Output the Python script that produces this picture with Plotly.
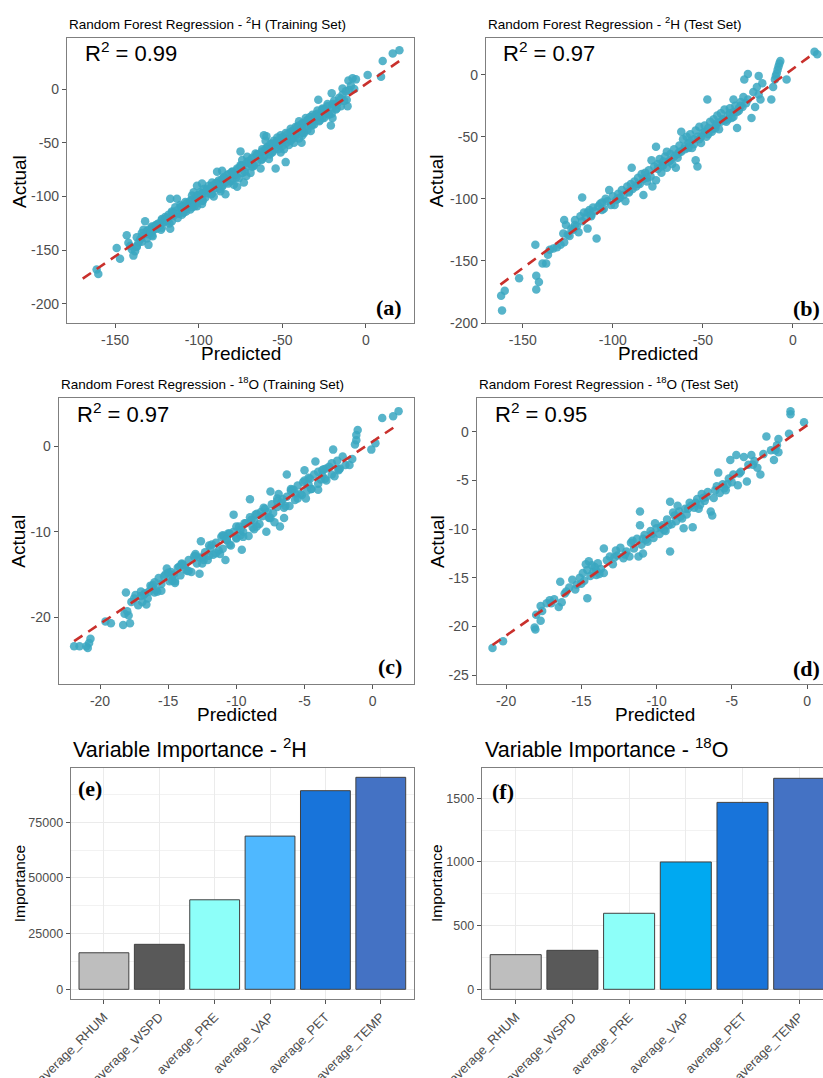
import plotly.graph_objects as go

# ---------------- data ----------------
# (a) 2H training set: predicted, actual
a_pred = [-161,-160,-149,-147,-143,-142,-141,-140,-139,-138,-137,-136,-135,-134,-133,-132,-131,-130,-130,-129,
          -128,-127,-126,-125,-124,-123,-122,-121,-120,-119,-118,-117,-117,-116,-115,-114,-113,-112,-111,-110,
          -109,-108,-107,-106,-105,-104,-103,-103,-102,-101,-101,-100,-99,-98,-98,-97,-96,-95,-94,-93,
          -92,-91,-90,-89,-89,-88,-87,-86,-86,-85,-84,-84,-83,-82,-81,-80,-79,-78,-77,-77,
          -76,-75,-75,-74,-73,-72,-71.5,-71,-70,-69,-68,-67,-66,-65,-64,-63,-62,-61,-61,-60,
          -60,-59.5,-59,-58,-57,-56,-55,-54,-54,-53,-52,-51,-51,-50,-49,-48,-48,-47,-46,-45,
          -45,-44,-43,-42,-42,-41,-40,-40,-39,-38.5,-38,-38,-37,-36,-36,-35,-34,-33.5,-33,-33,
          -32,-31,-30,-29,-28.5,-28,-27,-26,-25,-24,-23,-22,-21,-20.5,-20.5,-20,-20,-19,-18,-17,
          -16,-15,-14,-14,-13,-12,-11.5,-11,-10.5,-10,-9,-8,-7,-6,1,9,10,16,20,
          -137,-137,-134,-134,-131,-128,-128,-125,-122,-122,-119,-116,-116,-113,-110,-110,-107,-104,-104,-101,
          -98,-98,-95,-92,-92,-89,-86,-86,-83,-80,-80,-77,-74,-74,-71,-68,-68,-65,-62,-62,
          -59,-56,-56,-53,-50,-50,-47,-44,-44,-41,-38,-38,-35,-32,-32,-29,-26,-26,-23]
a_act = [-168,-172,-148,-158,-136,-143,-146,-149,-155,-151,-147,-143,-140,-137,-131,-123,-139,-145,-135,-133,
         -128,-131,-127,-130,-125,-127,-121,-124,-119,-123,-117,-130,-102,-114,-118,-110,-102,-116,-108,-112,
         -115,-105,-110,-107,-112,-99,-96,-106,-103,-109,-90,-100,-96,-107,-88,-93,-101,-97,-90,-95,
         -87,-100,-92,-88,-77,-85,-95,-90,-76,-82,-98,-87,-84,-79,-86,-77,-89,-80,-75,-91,
         -83,-58,-71,-66,-87,-73,-81,-63,-69,-78,-65,-71,-60,-68,-62,-74,-56,-43,-63,-48,
         -58,-44,-54,-65,-51,-58,-48,-74,-55,-45,-52,-43,-59,-49,-56,-68,-41,-46,-52,-37,
         -48,-44,-50,-35,-42,-39,-30,-46,-37,-50,-32,-43,-41,-27,-35,-38,-31,-26,-29,-39,
         -24,-33,-26,-20,-10,-30,-23,-18,-27,-21,-14,-24,-34,-4,-23,-27,-17,-11,-19,-13,
         -8,-16,0.5,-5,-11,-2,-10,-16,8,-1,3,10,0,9,13,11.5,26,33,36,
         -138,-146,-134,-142,-132,-129,-136,-126,-122,-129,-120,-115,-123,-113,-109,-117,-106,-103,-110,-99,
         -97,-104,-94,-90,-97,-87,-84,-91,-80,-77,-85,-74,-71,-78,-68,-64,-72,-61,-58,-65,
         -55,-51,-59,-48,-45,-53,-42,-39,-46,-35,-32,-40,-29,-26,-33,-23,-19,-27,-16]
a_pred_core = [-130,-127.5,-125,-122.5,-120,-117.5,-115,-112.5,-110,-107.5,-105,-102.5,-100,-97.5,-95,-92.5,
               -90,-87.5,-85,-82.5,-80,-77.5,-75,-72.5,-70,-67.5,-65,-62.5,-60,-57.5,-55,-52.5,
               -50,-47.5,-45,-42.5,-40,-37.5,-35,-32.5,-30,-27.5,-25,-22.5,-20,-17.5,-15,
               -128.5,-118.5,-108.5,-98.5,-88.5,-78.5,-68.5,-58.5,-48.5,-38.5,-28.5,-18.5]
a_act_core = [-131,-137,-127,-131,-121,-125,-116,-120,-110,-114,-104,-109,-99,-104,-93,-98,
              -88,-93,-83,-88,-78,-82,-72,-77,-67,-72,-61,-66,-56,-61,-51,-56,
              -45,-50,-40,-45,-34,-40,-29,-34,-24,-29,-19,-23,-14,-18,-9,
              -133,-122,-112,-101,-90,-79,-69,-58,-47,-37,-26,-15]

# (b) 2H test set
b_pred = [-162,-161.5,-160,-152,-143,-142.5,-142.5,-141,-139,-137,-136,-135,-133,-131,-129,-127,-127.5,-127,-126,-125,
          -124,-123,-122,-121,-120,-119,-118,-117,-117,-116,-115,-114,-114,-113,-112,-111,-110,-109,-108,-107,
          -106,-105,-104,-103,-102,-101,-100,-99,-98,-97,-96,-95,-94,-93,-92,-91,-90,-89.5,-89,-88,
          -87,-86,-85,-84,-83,-83,-82,-81,-80,-79,-78.5,-78,-77,-76,-76,-75,-74,-73,-72,-71,
          -70,-70,-69,-68,-67,-66,-65,-64,-63,-62,-62,-61,-60,-59,-58,-57,-56,-55,-54,-54,
          -53,-53,-52,-51,-50,-49,-48,-47.5,-47,-46,-45,-44,-43,-42,-41,-40,-39,-38,-37,-36,
          -35,-34,-33,-33,-32,-31,-30,-29,-28,-27.5,-27,-25,-25,-23,-22,-21,-20,-19,-19,-18,
          -17,-12,-11,-10,-9.5,-9,-8.5,-8,-7.5,-7,-3.5,12,13.5,
          -75,-72,-66,-63,-60,-57,-52,-49,-45,-42,-38,-35,-31,-29,
          -121,-112,-106,-97,-91,-86,-81,-73,-68,-64,-58,-55,-51,-47,-43,-40,-36,-33,-30,-26]
b_act = [-178,-190,-174,-164,-137,-162,-173,-167,-152,-152,-145,-141,-140,-139,-137,-117,-128,-135,-121,-129,
         -130,-124,-125,-117,-122,-127,-114,-99,-118,-111,-115,-124,-111,-109,-113,-107,-110,-132,-106,-104,
         -103,-108,-100,-102,-93,-105,-98,-105,-101,-96,-99,-93,-97,-102,-90,-94,-88,-75,-92,-86,
         -90,-83,-88,-80,-97,-84,-79,-86,-77,-82,-69,-90,-74,-58,-85,-72,-68,-79,-73,-66,
         -62,-75,-70,-64,-72,-60,-75,-67,-57,-46,-62,-52,-58,-50,-55,-48,-59,-52,-69,-45,
         -74,-50,-42,-55,-47,-41,-50,-20,-43,-38,-46,-36,-41,-33,-44,-31,-36,-28,-38,-33,
         -27,-35,-20,-30,-25,-43,-29,-22,-26,-18,-4,0.5,-20,-35,-14,-26,-10,-1,-16,-20,
         -7,-20,-10,-4,-1,1,4,6.5,9,11,-4,18.5,16.5,
         -76,-70,-66,-62,-60,-54,-52,-46,-44,-39,-37,-31,-30,-25,
         -121,-114,-109,-100,-95,-88,-83,-74,-69,-64,-59,-56,-50,-48,-43,-38,-36,-34,-27,-23]

# (c) 18O training set
c_pred = [-21.9,-21.5,-21,-20.8,-20.7,-20.9,-19.6,-19.2,-18.3,-17.8,-18.1,-18,-17.9,-18.2,-17.7,-17.5,-17.2,-17,-16.8,-16.6,
          -16.4,-16.2,-16.1,-15.9,-15.7,-15.5,-15.3,-15.1,-14.9,-14.8,-14.6,-14.5,-14.3,-14.1,-13.9,-13.7,-13.5,-13.3,-13.1,-12.9,
          -12.7,-12.6,-12.5,-12.3,-12.1,-11.9,-11.7,-11.5,-11.3,-11.1,-11,-10.8,-10.7,-10.5,-10.4,-10.2,-10.2,-10,-9.8,-9.6,
          -9.5,-9.3,-9.1,-9,-8.9,-8.7,-8.5,-8.3,-8.1,-7.9,-7.8,-7.6,-7.5,-7.4,-7.2,-7,-6.9,-6.8,-6.6,-6.5,
          -6.3,-6.3,-6.1,-5.9,-5.7,-5.5,-5.3,-5.1,-5,-4.9,-4.7,-4.5,-4.3,-4.2,-4,-3.8,-3.6,-3.4,-3.2,-3,
          -2.9,-2.8,-2.6,-2.4,-2.2,-2,-1.7,-1.5,-1.3,-1.2,-1.1,-1.2,-0.1,0.2,0.7,1.5,1.9,
          -17.4,-16.9,-16.3,-15.8,-15.2,-14.7,-14.2,-13.6,-13.0,-12.4,-11.8,-11.2,-10.6,-10.0,-9.4,-8.8,-8.2,-7.6,-7.0,-6.4,
          -5.8,-5.2,-4.6,-4.0,-3.4,-2.5,-16.0,-14.0,-12.0,-10.9,-9.7,-8.6,-7.3,-6.0,-4.8,-3.7]
c_act = [-23.4,-23.4,-23.4,-23,-22.5,-23.6,-20.5,-20.7,-20.9,-20.7,-17.1,-19.3,-19.8,-19.6,-18.2,-17.8,-18.6,-17.5,-17.4,-18.5,
         -17,-16.4,-16.2,-16.8,-15.4,-16.1,-15.2,-14.3,-15.8,-14.7,-15,-16,-14.2,-15.1,-13.9,-14.4,-13.3,-14.7,-12.9,-13.7,
         -14.9,-11.1,-13,-12.4,-13.3,-11.9,-12.7,-11.3,-12.2,-10.6,-12,-13.3,-11,-10.2,-11.6,-8,-10,-10.8,-9.4,-12.1,
         -10,-9,-10.5,-6.2,-8.6,-9.7,-7.9,-9.1,-8.2,-7.3,-10,-8.4,-5.3,-6.8,-8.9,-7.1,-5.6,-9.4,-6.2,-8.4,
         -3.3,-5.9,-7,-5.1,-6.3,-4.6,-5.6,-4.2,-2.8,-6.1,-3.7,-5,-3.3,-1.8,-5.1,-3.9,-2.7,-4,-2.4,-3.3,
         -0.4,-3.5,-1.7,-2.6,-1.2,-2.2,-2.2,-1.5,0.2,1.3,1.9,0.7,-0.4,0.35,3.3,3.5,4.1,
         -17.4,-18.2,-16.3,-17.0,-15.0,-15.7,-14.1,-14.6,-12.8,-13.3,-11.5,-12.6,-10.2,-10.7,-9.0,-9.5,-7.7,-8.3,-6.4,-7.0,
         -5.1,-5.7,-3.8,-4.4,-2.6,-2.8,-17.1,-13.8,-12.8,-10.5,-10.4,-8.0,-7.8,-5.2,-5.2,-2.8]
c_pred_core = [-17,-16.5,-16,-15.5,-15,-14.5,-14,-13.5,-13,-12.5,-12,-11.5,-11,-10.5,-10,-9.5,-9,-8.5,-8,-7.5,
               -7,-6.5,-6,-5.5,-5,-4.5,-4,-3.5,-3,-2.5,
               -16.7,-14.7,-12.7,-10.7,-9.7,-8.7,-7.7,-6.7,-5.7,-4.7,-3.7]
c_act_core = [-17.0,-17.8,-15.9,-16.9,-14.8,-15.8,-13.7,-14.6,-12.6,-13.7,-11.6,-12.5,-10.4,-11.5,-9.4,-10.6,-8.3,-9.4,-7.2,-8.4,
              -6.1,-7.2,-5.0,-6.1,-4.0,-5.0,-3.0,-3.8,-2.0,-2.7,
              -17.2,-15.1,-13.0,-10.9,-9.8,-8.7,-7.7,-6.6,-5.5,-4.5,-3.4]

# (d) 18O test set
d_pred = [-20.9,-20.2,-18.1,-18.05,-18,-17.7,-17.6,-17.7,-17.3,-17.1,-17,-16.8,-16.5,-16.4,-16.3,-16.1,-16,-15.8,-15.6,-15.4,
          -15.3,-15.1,-14.9,-14.8,-14.6,-14.6,-14.5,-14.4,-14.3,-14.2,-14.1,-14,-13.9,-13.7,-13.5,-13.5,-13.3,-13.1,-12.9,-12.7,
          -12.6,-12.4,-12.2,-12,-11.8,-11.7,-11.5,-11.3,-11.2,-11.1,-11.1,-11,-10.9,-10.8,-10.6,-10.4,-10.2,-10,-9.8,-9.6,
          -9.4,-9.3,-9.1,-9.1,-9,-8.9,-8.7,-8.6,-8.4,-8.2,-8.1,-8,-7.8,-7.6,-7.5,-7.3,-7.1,-7,-6.8,-6.6,
          -6.4,-6.3,-6.2,-6,-5.9,-5.8,-5.6,-5.4,-5.2,-5.1,-5,-4.9,-4.7,-4.6,-4.4,-4.2,-4,-3.9,-3.7,-3.5,
          -3.3,-3.1,-2.9,-2.7,-2.4,-2.2,-2.1,-2,-1.9,-1.9,-1.2,-1.1,-1.1,-0.2,
          -14.7,-14.0,-11.6,-10.7,-10.1,-9.5,-8.8,-8.3,-7.7,-7.2,-6.7,-5.5,
          -15.0,-13.8,-12.8,-12.1,-10.9,-10.3,-9.7,-9.2,-8.5,-7.9,-7.4,-6.9,-6.1,-5.3,-4.5,-3.6]
d_act = [-22.2,-21.5,-20.1,-20.3,-18.8,-17.9,-18.4,-19.4,-17.6,-17.3,-17.6,-17.2,-18,-15.4,-17.5,-16.6,-16.4,-16,-15.2,-16.2,
         -15.7,-15,-14.5,-15.3,-17.1,-14.2,-13.3,-14.8,-13.7,-14.4,-13.9,-14.7,-13.5,-14.1,-12,-14.5,-13.2,-12.8,-13.6,-12.2,
         -12.7,-11.9,-13,-12.3,-12.8,-11.4,-12,-11,-12.8,-8.2,-9.6,-11.6,-12.5,-10.6,-11.3,-10.2,-10.9,-9.9,-10.5,-9.6,
         -10.2,-9,-12.3,-7.2,-9.5,-8.3,-9.2,-7.6,-8.7,-9.9,-7.9,-8.5,-7.3,-9.8,-7.8,-6.9,-7.5,-6.4,-7.1,-6.2,
         -8.2,-8.6,-6.8,-5.6,-4.2,-6.3,-5.4,-6,-4.8,-2.9,-5.2,-4.4,-2.4,-5.5,-4.1,-2.6,-5.1,-3.4,-2.4,-3,
         -3.7,-4.4,-2.3,-0.5,-1.9,-2.9,-1.9,-1.4,-0.75,-2.1,-0.2,1.8,2.1,0.96,
         -13.6,-14.3,-11.2,-11.1,-9.4,-10.1,-8.6,-8.9,-7.6,-7.9,-6.7,-5.8,
         -15.6,-14.6,-12.9,-12.6,-11.0,-10.5,-9.8,-9.6,-8.2,-7.9,-7.3,-6.8,-6.0,-5.4,-4.3,-3.4]

# fitted lines: slope, intercept, x-span
fit_a = dict(slope=1.07, intercept=4.7, x0=-169.3, x1=19.9)
fit_b = dict(slope=1.07, intercept=4.7, x0=-162.4, x1=12.0)
fit_c = dict(slope=1.066, intercept=0.55, x0=-21.9, x1=1.64)
fit_d = dict(slope=1.079, intercept=0.65, x0=-20.9, x1=0.1)

r2_values = ["0.99", "0.97", "0.97", "0.95"]

variables = ["average_RHUM", "average_WSPD", "average_PRE", "average_VAP", "average_PET", "average_TEMP"]
imp_2H = [16400, 20200, 40200, 68800, 89200, 95200]
imp_18O = [272, 306, 597, 1000, 1468, 1657]
colors_2H = ["#BEBEBE", "#595959", "#8DFFF9", "#4FB8FF", "#1874DA", "#4472C4"]
colors_18O = ["#BEBEBE", "#595959", "#8DFFF9", "#00A9F1", "#1874DA", "#4472C4"]

# ---------------- figure ----------------
W, H = 823, 1078
FONT = "Liberation Sans, Arial, Helvetica, sans-serif"
PT_COL = "#3AA7C1"
LINE_COL = "#C9302C"
AX_COL = "#7f7f7f"
TICK_COL = "#4D4D4D"

def px(x):
    return x / W

def py(y):
    return 1 - y / H

fig = go.Figure()

scatter_sets = [
    (a_pred + a_pred_core, a_act + a_act_core, fit_a, "x", "y"),
    (b_pred, b_act, fit_b, "x2", "y2"),
    (c_pred + c_pred_core, c_act + c_act_core, fit_c, "x3", "y3"),
    (d_pred, d_act, fit_d, "x4", "y4"),
]
for xs, ys, fit, xa, ya in scatter_sets:
    fig.add_trace(go.Scatter(x=xs, y=ys, mode="markers", xaxis=xa, yaxis=ya,
                             marker=dict(color=PT_COL, size=8.5, opacity=0.85, line=dict(width=0)),
                             showlegend=False, hoverinfo="skip"))
    lx = [fit["x0"], fit["x1"]]
    ly = [fit["slope"] * v + fit["intercept"] for v in lx]
    fig.add_trace(go.Scatter(x=lx, y=ly, mode="lines", xaxis=xa, yaxis=ya,
                             line=dict(color=LINE_COL, width=2.6, dash="10px,7px"),
                             showlegend=False, hoverinfo="skip"))

fig.add_trace(go.Bar(x=variables, y=imp_2H, xaxis="x5", yaxis="y5", width=0.9,
                     marker=dict(color=colors_2H, line=dict(color="#404040", width=1)),
                     showlegend=False, hoverinfo="skip"))
fig.add_trace(go.Bar(x=variables, y=imp_18O, xaxis="x6", yaxis="y6", width=0.9,
                     marker=dict(color=colors_18O, line=dict(color="#404040", width=1)),
                     showlegend=False, hoverinfo="skip"))

def sc_axis(dom, rng, ticks, anchor, mirror=True, size=14):
    return dict(domain=dom, range=rng, tickvals=ticks, ticktext=[str(t) for t in ticks],
                showgrid=False, zeroline=False, showline=True, linecolor=AX_COL, linewidth=1.2,
                mirror=mirror, ticks="outside", ticklen=4, tickcolor="#555", tickwidth=1,
                tickfont=dict(family=FONT, size=size, color=TICK_COL), anchor=anchor,
                fixedrange=True, automargin=False)

layout = dict(width=W, height=H, margin=dict(l=0, r=0, t=0, b=0, autoexpand=False),
              paper_bgcolor="white", plot_bgcolor="white", bargap=0.1,
              font=dict(family=FONT, color="black"))

ya_ab = [py(323), py(38)]
ya_cd = [py(684), py(398.3)]
ya_ef = [py(999.3), py(768.3)]

layout["xaxis"] = sc_axis([px(67), px(414)], [-178.7, 28.7], [-150, -100, -50, 0], "y")
layout["yaxis"] = sc_axis(ya_ab, [-217.7, 47.5], [-200, -150, -100, -50, 0], "x")
layout["xaxis2"] = sc_axis([px(486), 1.0], [-170.4, 16.7], [-150, -100, -50, 0], "y2")
layout["yaxis2"] = sc_axis(ya_ab, [-200, 29.5], [-200, -150, -100, -50, 0], "x2", mirror=False)
layout["xaxis3"] = sc_axis([px(58.7), px(414)], [-23.03, 3.03], [-20, -15, -10, -5, 0], "y3")
layout["yaxis3"] = sc_axis(ya_cd, [-27.8, 5.6], [-20, -10, 0], "x3")
layout["xaxis4"] = sc_axis([px(476.7), 1.0], [-21.95, 1.06], [-20, -15, -10, -5, 0], "y4")
layout["yaxis4"] = sc_axis(ya_cd, [-25.9, 3.43], [-25, -20, -15, -10, -5, 0], "x4", mirror=False)

def bar_xaxis(dom, rng, anchor):
    return dict(domain=dom, range=rng, type="category", showgrid=True, gridcolor="#EBEBEB", gridwidth=1,
                zeroline=False, showline=True, linecolor=AX_COL, linewidth=1.2, mirror=True,
                ticks="outside", ticklen=4, tickcolor="#555", tickangle=-45,
                tickfont=dict(family=FONT, size=13, color=TICK_COL), anchor=anchor,
                fixedrange=True, automargin=False)

def bar_yaxis(dom, rng, ticks, minor_dt, anchor, mirror=True):
    return dict(domain=dom, range=rng, tickvals=ticks, ticktext=[str(t) for t in ticks],
                showgrid=True, gridcolor="#EBEBEB", gridwidth=1,
                minor=dict(dtick=minor_dt, tick0=0, showgrid=True, gridcolor="#F2F2F2", gridwidth=1, ticks=""),
                zeroline=False, showline=True, linecolor=AX_COL, linewidth=1.2, mirror=mirror,
                ticks="outside", ticklen=4, tickcolor="#555",
                tickfont=dict(family=FONT, size=12.5, color=TICK_COL), anchor=anchor,
                fixedrange=True, automargin=False)

layout["xaxis5"] = bar_xaxis([px(70.7), px(414)], [-0.6, 5.6], "y5")
layout["yaxis5"] = bar_yaxis(ya_ef, [-4490, 99250], [0, 25000, 50000, 75000], 12500, "x5")
layout["xaxis6"] = bar_xaxis([px(481.7), 1.0], [-0.6, 5.42], "y6")
layout["yaxis6"] = bar_yaxis(ya_ef, [-78.5, 1735.6], [0, 500, 1000, 1500], 250, "x6", mirror=False)

ann = []

def text(x, y, s, size, xanchor="left", yanchor="middle", family=FONT, angle=0, color="black"):
    ann.append(dict(x=px(x), y=py(y), xref="paper", yref="paper", text=s, showarrow=False,
                    xanchor=xanchor, yanchor=yanchor, textangle=angle,
                    font=dict(family=family, size=size, color=color)))

# scatter titles
text(66.7, 23, "Random Forest Regression - <sup>2</sup>H (Training Set)", 13.5)
text(485.7, 23, "Random Forest Regression - <sup>2</sup>H (Test Set)", 13.5)
text(58.7, 383.3, "Random Forest Regression - <sup>18</sup>O (Training Set)", 13.5)
text(476.7, 383.3, "Random Forest Regression - <sup>18</sup>O (Test Set)", 13.5)

# R2 labels
for (x, y), r in zip([(83.3, 52), (501, 52), (75, 413), (493.3, 413)], r2_values):
    text(x, y, "R<sup>2</sup> = " + r, 22)

# panel letters
SERIF = "Liberation Serif, Times New Roman, serif"
text(404, 307, "<b>(a)</b>", 22, xanchor="right", family=SERIF)
text(821.5, 308, "<b>(b)</b>", 22, xanchor="right", family=SERIF)
text(404.3, 666.7, "<b>(c)</b>", 22, xanchor="right", family=SERIF)
text(822, 668.3, "<b>(d)</b>", 22, xanchor="right", family=SERIF)
text(76, 788, "<b>(e)</b>", 22, family=SERIF)
text(490, 791.7, "<b>(f)</b>", 22, family=SERIF)

# axis titles
text(241, 353.5, "Predicted", 19, xanchor="center")
text(658.3, 353, "Predicted", 19, xanchor="center")
text(236.7, 714, "Predicted", 19, xanchor="center")
text(655, 714, "Predicted", 19, xanchor="center")
text(19.3, 181.7, "Actual", 19, xanchor="center", angle=-90)
text(437.3, 181, "Actual", 19, xanchor="center", angle=-90)
text(19, 541.7, "Actual", 19, xanchor="center", angle=-90)
text(437.3, 541.7, "Actual", 19, xanchor="center", angle=-90)
text(19, 883.3, "Importance", 15.5, xanchor="center", angle=-90)
text(436.7, 883.3, "Importance", 15.5, xanchor="center", angle=-90)

# bar titles
text(71, 748, "Variable Importance - <sup>2</sup>H", 21.5)
text(482.7, 748, "Variable Importance - <sup>18</sup>O", 21.5)

layout["annotations"] = ann
fig.update_layout(**layout)
fig.write_html("out.html", config={"displayModeBar": False},
               post_script="document.body.style.margin='0';document.body.style.overflow='hidden';")
